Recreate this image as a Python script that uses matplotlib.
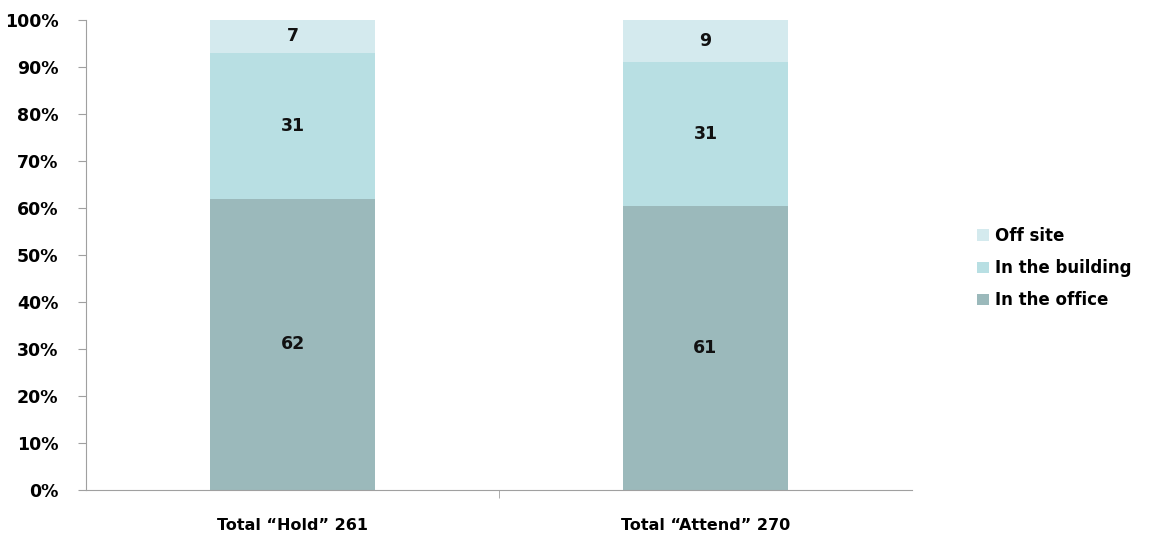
import matplotlib.pyplot as plt
import numpy as np

categories = ["Total \u201cHold\u201d 261", "Total \u201cAttend\u201d 270"]
series_names = ["In the office", "In the building", "Off site"]
office = [62, 61]
building = [31, 31]
offsite = [7, 9]
colors = ["#9bb9bb", "#b8dfe3", "#d4eaee"]

plt.rcParams["font.family"] = ["DejaVu Sans"]
plt.rcParams["font.weight"] = "bold"

fig = plt.figure(figsize=(11.49, 5.39), dpi=100)
ax = fig.add_axes([86 / 1149, 49 / 539, 826 / 1149, 470 / 539])

vals = np.array([office, building, offsite], dtype=float)
shares = vals / vals.sum(axis=0) * 100
x = np.arange(len(categories))
bottom = np.zeros(len(categories))
handles = []
for name, raw, share, col in zip(series_names, vals, shares, colors):
    h = ax.bar(x, share, bottom=bottom, width=0.4, color=col, label=name)
    handles.append(h)
    for xi, b, s, r in zip(x, bottom, share, raw):
        ax.text(xi, b + s / 2, f"{int(r)}", ha="center", va="center",
                fontsize=12.5, fontweight="bold", color="#111111")
    bottom += share

ax.set_xlim(-0.5, 1.5)
ax.set_ylim(0, 100)
ax.set_yticks(np.arange(0, 101, 10))
ax.set_yticklabels([f"{v}%" for v in range(0, 101, 10)], fontsize=12.5, fontweight="bold")
ax.set_xticks(x)
ax.set_xticklabels(categories, fontsize=11.5, fontweight="bold")
ax.set_xticks([0.5], minor=True)
ax.tick_params(axis="x", which="major", length=0, pad=20)
ax.tick_params(axis="x", which="minor", length=6, color="#a0a0a0", direction="out")
ax.tick_params(axis="y", length=6, color="#a0a0a0", pad=14)
for side in ["top", "right"]:
    ax.spines[side].set_visible(False)
for side in ["left", "bottom"]:
    ax.spines[side].set_color("#a0a0a0")

leg = fig.legend(handles[::-1], series_names[::-1], loc="upper left",
                 bbox_to_anchor=(962 / 1149, 1 - 212 / 539), frameon=False,
                 prop={"size": 12, "weight": "bold"}, handlelength=0.7,
                 handleheight=0.7, handletextpad=0.4, labelspacing=0.85)

fig.savefig("out.png", dpi=100)
